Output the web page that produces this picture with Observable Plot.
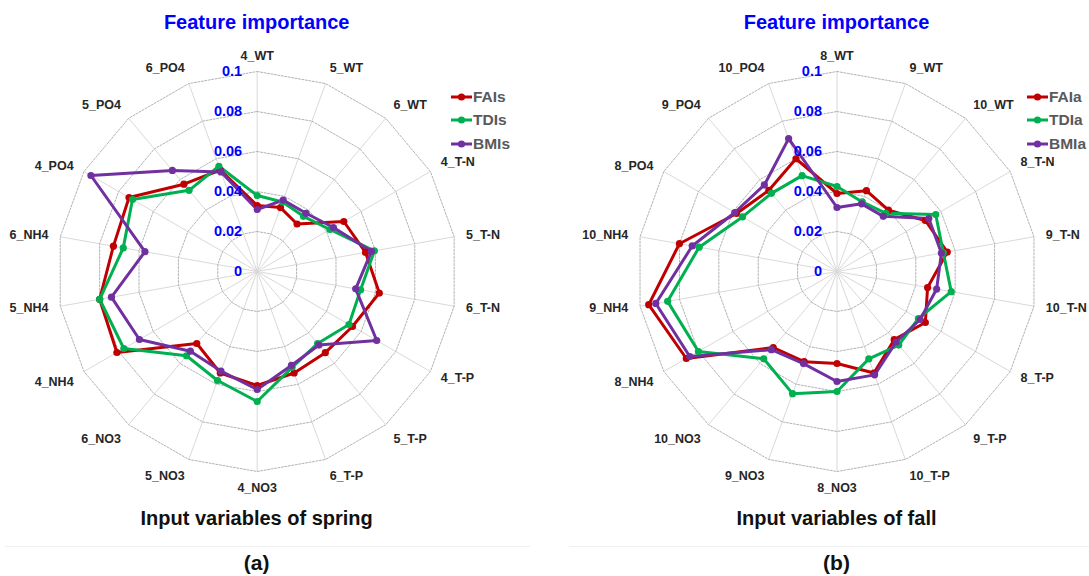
<!DOCTYPE html>
<html>
<head>
<meta charset="utf-8">
<script src="https://cdn.jsdelivr.net/npm/d3@7"></script>
<script src="https://cdn.jsdelivr.net/npm/@observablehq/plot@0.6"></script>
<style>
  body { margin: 0; background: #fff; font-family: "Liberation Sans", Arial, sans-serif; }
  #wrap { position: relative; width: 1089px; height: 576px; overflow: hidden; }
  .panel { position: absolute; top: 0; height: 576px; overflow: hidden; }
  .title { position: absolute; top: 10px; width: 300px; text-align: center; color: #0000ff; font-weight: bold; font-size: 20px; line-height: 24px; }
  .caption { position: absolute; top: 506px; width: 340px; text-align: center; color: #111; font-weight: bold; font-size: 20px; line-height: 24px; }
  .tag { position: absolute; top: 551px; width: 100px; text-align: center; color: #111; font-weight: bold; font-size: 21px; line-height: 24px; }
  .sep { position: absolute; top: 546px; height: 0; border-top: 1px solid #f0f0f0; }
  .chart { position: absolute; top: 40px; left: 0; }
  .legend { position: absolute; font-weight: bold; font-size: 15.5px; color: #595959; }
  .legend .row { display: flex; align-items: center; height: 23.5px; white-space: nowrap; }
  .legend svg { margin-right: 1px; }
</style>
</head>
<body>
<div id="wrap"></div>
<script>
// ---------- data ----------
const tickValues = [0, 0.02, 0.04, 0.06, 0.08, 0.1];
const tickLabels = ["0", "0.02", "0.04", "0.06", "0.08", "0.1"];
const seriesColors = ["#c00000", "#00b050", "#7030a0"];

const springVars = ["4_WT","5_WT","6_WT","4_T-N","5_T-N","6_T-N","4_T-P","5_T-P","6_T-P","4_NO3","5_NO3","6_NO3","4_NH4","5_NH4","6_NH4","4_PO4","5_PO4","6_PO4"];
const springSeries = ["FAIs", "TDIs", "BMIs"];
const springFAI = [0.033,0.034,0.031,0.050,0.055,0.062,0.055,0.053,0.054,0.057,0.054,0.047,0.081,0.080,0.073,0.074,0.057,0.054];
const springTDI = [0.038,0.037,0.036,0.042,0.0595,0.0525,0.053,0.047,0.051,0.065,0.058,0.055,0.077,0.080,0.068,0.072,0.053,0.056];
const springBMI = [0.031,0.038,0.038,0.044,0.058,0.050,0.069,0.048,0.050,0.059,0.053,0.052,0.068,0.074,0.057,0.096,0.066,0.053];

const fallVars = ["8_WT","9_WT","10_WT","8_T-N","9_T-N","10_T-N","8_T-P","9_T-P","10_T-P","8_NO3","9_NO3","10_NO3","8_NH4","9_NH4","10_NH4","8_PO4","9_PO4","10_PO4"];
const fallSeries = ["FAIa", "TDIa", "BMIa"];
const fallFAI = [0.039,0.043,0.040,0.051,0.056,0.046,0.051,0.0445,0.054,0.046,0.048,0.0496,0.087,0.0956,0.080,0.058,0.053,0.060];
const fallTDI = [0.0425,0.037,0.038,0.057,0.054,0.058,0.047,0.048,0.0465,0.060,0.065,0.057,0.080,0.086,0.070,0.0546,0.051,0.051];
const fallBMI = [0.032,0.036,0.036,0.053,0.053,0.0506,0.048,0.046,0.055,0.055,0.049,0.051,0.085,0.092,0.0735,0.059,0.0565,0.0707];

// ---------- drawing ----------
const wrap = document.getElementById("wrap");

function panel(opts) {
  const {left, W, cx, vars, names, values, caption, tag, legendX, sepL, sepR} = opts;
  const H = 460, cy = 231, S = 2000;   // px per unit of importance
  const n = vars.length;
  const ang = i => 2 * Math.PI * i / n;
  const maxV = tickValues[tickValues.length - 1];

  const p = document.createElement("div");
  p.className = "panel";
  p.style.left = left + "px";
  p.style.width = W + "px";
  wrap.appendChild(p);

  const t = document.createElement("div");
  t.className = "title"; t.textContent = "Feature importance";
  t.style.left = (cx - 150) + "px";
  p.appendChild(t);

  // series rows
  const rows = [];
  names.forEach((s, k) => values[k].forEach((v, i) =>
    rows.push({series: s, v, x: v * Math.sin(ang(i)), y: v * Math.cos(ang(i))})));

  // grid rings
  const rings = [];
  tickValues.filter(v => v > 0).forEach(v => vars.forEach((_, i) =>
    rings.push({ring: v, x: v * Math.sin(ang(i)), y: v * Math.cos(ang(i))})));

  const spokes = vars.map((name, i) => ({x2: maxV * Math.sin(ang(i)), y2: maxV * Math.cos(ang(i))}));

  const lr = maxV + 12 / S;
  const labels = vars.map((name, i) => {
    const s = Math.sin(ang(i)), c = Math.cos(ang(i));
    return {
      name, x: lr * s, y: lr * c,
      anchor: s > 0.05 ? "start" : s < -0.05 ? "end" : "middle",
      line: c > 0.5 ? "bottom" : c < -0.5 ? "top" : "middle"
    };
  });
  const ticks = tickValues.map((v, i) => ({v, label: tickLabels[i]}));

  const plot = Plot.plot({
    width: W, height: H,
    marginTop: 0, marginBottom: 0, marginLeft: 0, marginRight: 0,
    x: {domain: [-cx / S, (W - cx) / S], axis: null},
    y: {domain: [-(H - cy) / S, cy / S], axis: null},
    color: {domain: names, range: seriesColors},
    style: {fontFamily: "'Liberation Sans', Arial, sans-serif", background: "transparent", overflow: "visible"},
    marks: [
      Plot.link(spokes, {x1: 0, y1: 0, x2: "x2", y2: "y2", stroke: "#d9d9d9", strokeWidth: 1}),
      Plot.line(rings, {x: "x", y: "y", z: "ring", curve: "linear-closed", stroke: "#b3b3b3", strokeWidth: 1, strokeDasharray: "2,1.5"}),
      Plot.line(rows, {x: "x", y: "y", z: "series", stroke: "series", curve: "linear-closed", strokeWidth: 3, strokeLinejoin: "round"}),
      Plot.dot(rows, {x: "x", y: "y", fill: "series", r: 3.6}),
      Plot.text(ticks, {x: 0, y: "v", text: "label", textAnchor: "end", dx: -15, fill: "#0000ff", fontWeight: "bold", fontSize: 14.5}),
      ...["start", "end", "middle"].flatMap(a => ["top", "bottom", "middle"].map(l =>
        Plot.text(labels.filter(d => d.anchor === a && d.line === l), {
          x: "x", y: "y", text: "name", textAnchor: a, lineAnchor: l,
          fill: "#262626", fontWeight: "bold", fontSize: 12.5
        })))
    ]
  });
  plot.classList.add("chart");
  p.appendChild(plot);

  // legend
  const lg = document.createElement("div");
  lg.className = "legend";
  lg.style.left = legendX + "px";
  lg.style.top = "85px";
  names.forEach((s, k) => {
    const row = document.createElement("div");
    row.className = "row";
    row.innerHTML = `<svg width="21" height="10"><line x1="0" y1="5" x2="21" y2="5" stroke="${seriesColors[k]}" stroke-width="3"/><circle cx="10.5" cy="5" r="3.6" fill="${seriesColors[k]}"/></svg>${s}`;
    lg.appendChild(row);
  });
  p.appendChild(lg);

  const cap = document.createElement("div");
  cap.className = "caption"; cap.textContent = caption;
  cap.style.left = (cx - 170) + "px";
  p.appendChild(cap);

  const sep = document.createElement("div");
  sep.className = "sep";
  sep.style.left = sepL + "px"; sep.style.width = (sepR - sepL) + "px";
  p.appendChild(sep);

  const tg = document.createElement("div");
  tg.className = "tag"; tg.textContent = tag;
  tg.style.left = (cx - 50) + "px";
  p.appendChild(tg);
}

panel({left: 0, W: 545, cx: 256.7, vars: springVars, names: springSeries,
  values: [springFAI, springTDI, springBMI], caption: "Input variables of spring", tag: "(a)",
  legendX: 451, sepL: 5, sepR: 530});
panel({left: 545, W: 544, cx: 291.5, vars: fallVars, names: fallSeries,
  values: [fallFAI, fallTDI, fallBMI], caption: "Input variables of fall", tag: "(b)",
  legendX: 482, sepL: 24, sepR: 544});
</script>
</body>
</html>
